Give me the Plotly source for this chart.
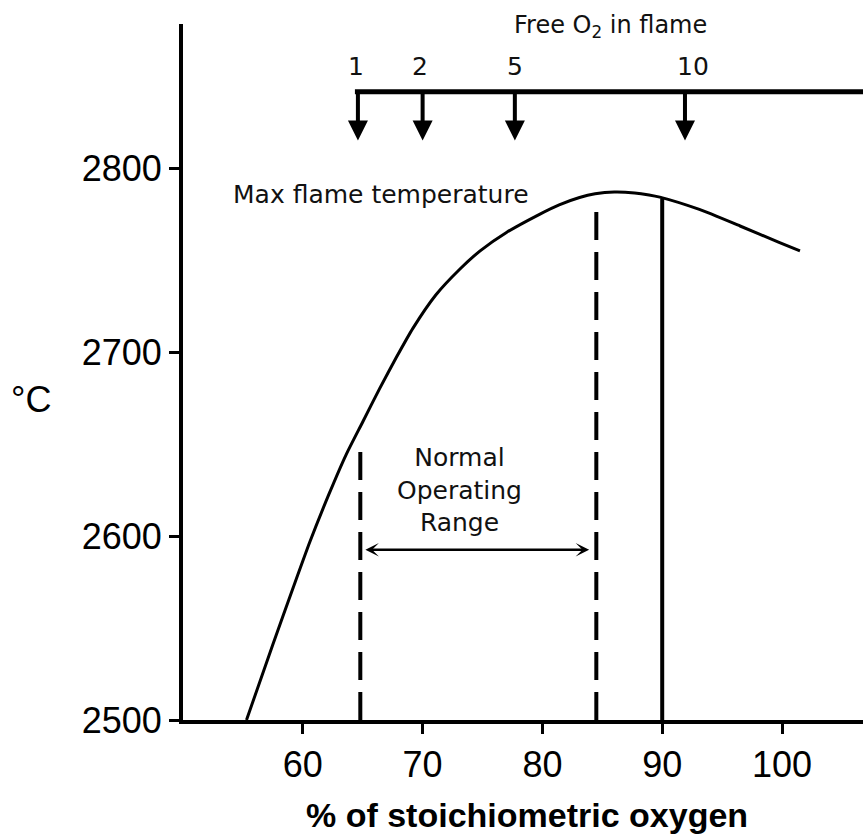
import plotly.graph_objects as go

# ---- data ----
o2_pct = [55.3, 57.5, 59.2, 60.6, 62.2, 63.6, 65.0, 66.4, 67.8, 69.2, 71.1, 73.1,
          74.8, 77.0, 79.8, 81.4, 83.1, 84.4, 86.0, 87.7, 88.9, 89.8, 93.1, 96.5,
          99.8, 101.5]
temp_c = [2500, 2541, 2572, 2597, 2623, 2644, 2662, 2680, 2697, 2713, 2731, 2745,
          2755, 2765, 2775, 2780, 2784, 2786, 2787, 2786.5, 2785.4, 2784.2, 2777.5, 2768.5,
          2759.5, 2755]

x_ticks = [60, 70, 80, 90, 100]
y_ticks = [2500, 2600, 2700, 2800]

normal_range_x = [64.8, 84.5]
normal_range_top = [2651, 2782]
normal_arrow_x = [65.1, 83.9]
normal_arrow_y = 2592.5
max_temp_x = 90
max_temp_top = 2783.5

free_o2_labels = ["1", "2", "5", "10"]
free_o2_arrow_x = [64.6, 70.0, 77.7, 91.9]
free_o2_label_x = [64.4, 69.8, 77.7, 92.6]
bar_y = 2841.5
arrow_tip_y = 2815.0
label_y = 2855.0
bar_x_start = 64.35

x_range = [50, 106.76]
y_range = [2500, 2878.3]

TXT = "DejaVu Sans"
AX = "Arial"

fig = go.Figure()

# main curve
fig.add_trace(go.Scatter(x=o2_pct, y=temp_c, mode="lines",
                         line=dict(color="black", width=3, shape="spline", smoothing=0.6),
                         hoverinfo="skip"))

# dashed normal-range lines
for xv, top in zip(normal_range_x, normal_range_top):
    fig.add_trace(go.Scatter(x=[xv, xv], y=[y_range[0], top], mode="lines",
                             line=dict(color="black", width=4, dash="28px,12px"),
                             hoverinfo="skip"))

# solid line at 90
fig.add_trace(go.Scatter(x=[max_temp_x, max_temp_x], y=[y_range[0], max_temp_top], mode="lines",
                         line=dict(color="black", width=4), hoverinfo="skip"))

# top bar for free O2 scale
fig.add_trace(go.Scatter(x=[bar_x_start, x_range[1]], y=[bar_y, bar_y], mode="lines",
                         line=dict(color="black", width=5), hoverinfo="skip", cliponaxis=False))

annotations = []
for lab, ax_x, lab_x in zip(free_o2_labels, free_o2_arrow_x, free_o2_label_x):
    annotations.append(dict(x=ax_x, y=arrow_tip_y, ax=ax_x, ay=bar_y, xref="x", yref="y",
                            axref="x", ayref="y", showarrow=True, arrowhead=2,
                            arrowsize=1.0, arrowwidth=4, arrowcolor="black", text=""))
    annotations.append(dict(x=lab_x, y=label_y, xref="x", yref="y", text=lab,
                            showarrow=False, font=dict(family=TXT, size=25, color="#111"),
                            xanchor="center", yanchor="middle"))

annotations.append(dict(x=85.7, y=2877.0, xref="x", yref="y", text="Free O<sub>2</sub> in flame",
                        showarrow=False, font=dict(family=TXT, size=24, color="#111"),
                        xanchor="center", yanchor="middle"))
annotations.append(dict(x=66.5, y=2785.5, xref="x", yref="y", text="Max flame temperature",
                        showarrow=False, font=dict(family=TXT, size=25, color="#111"),
                        xanchor="center", yanchor="middle"))
annotations.append(dict(x=73.1, y=2625, xref="x", yref="y", text="Normal<br>Operating<br>Range",
                        showarrow=False, font=dict(family=TXT, size=25, color="#111"),
                        xanchor="center", yanchor="middle"))
annotations.append(dict(x=normal_arrow_x[1], y=normal_arrow_y, ax=normal_arrow_x[0], ay=normal_arrow_y,
                        xref="x", yref="y", axref="x", ayref="y", showarrow=True,
                        arrowhead=3, startarrowhead=3, arrowside="end+start",
                        arrowsize=0.9, startarrowsize=0.9, arrowwidth=2.5,
                        arrowcolor="black", text=""))
annotations.append(dict(x=-0.223, y=0.46, xref="paper", yref="paper", text="°C",
                        showarrow=False, font=dict(family=AX, size=36, color="black"),
                        xanchor="center", yanchor="middle"))
annotations.append(dict(x=0.506, y=-0.137, xref="paper", yref="paper",
                        text="<b>% of stoichiometric oxygen</b>",
                        showarrow=False, font=dict(family=AX, size=34, color="black"),
                        xanchor="center", yanchor="middle"))

fig.update_layout(
    width=863, height=836, autosize=False,
    margin=dict(l=183, r=0, t=24, b=116, pad=0),
    plot_bgcolor="white", paper_bgcolor="white",
    showlegend=False,
    annotations=annotations,
    xaxis=dict(range=x_range, tickvals=x_ticks, ticktext=[str(v) for v in x_ticks],
               showgrid=False, zeroline=False, showline=True, linecolor="black", linewidth=4,
               ticks="outside", ticklen=10, tickwidth=3, tickcolor="black",
               tickfont=dict(family=AX, size=36, color="black"), fixedrange=True),
    yaxis=dict(range=y_range, tickvals=y_ticks, ticktext=[str(v) for v in y_ticks],
               showgrid=False, zeroline=False, showline=True, linecolor="black", linewidth=4,
               ticks="outside", ticklen=10, tickwidth=3, tickcolor="black",
               tickfont=dict(family=AX, size=36, color="black"), fixedrange=True),
)

fig.write_html("out.html")
